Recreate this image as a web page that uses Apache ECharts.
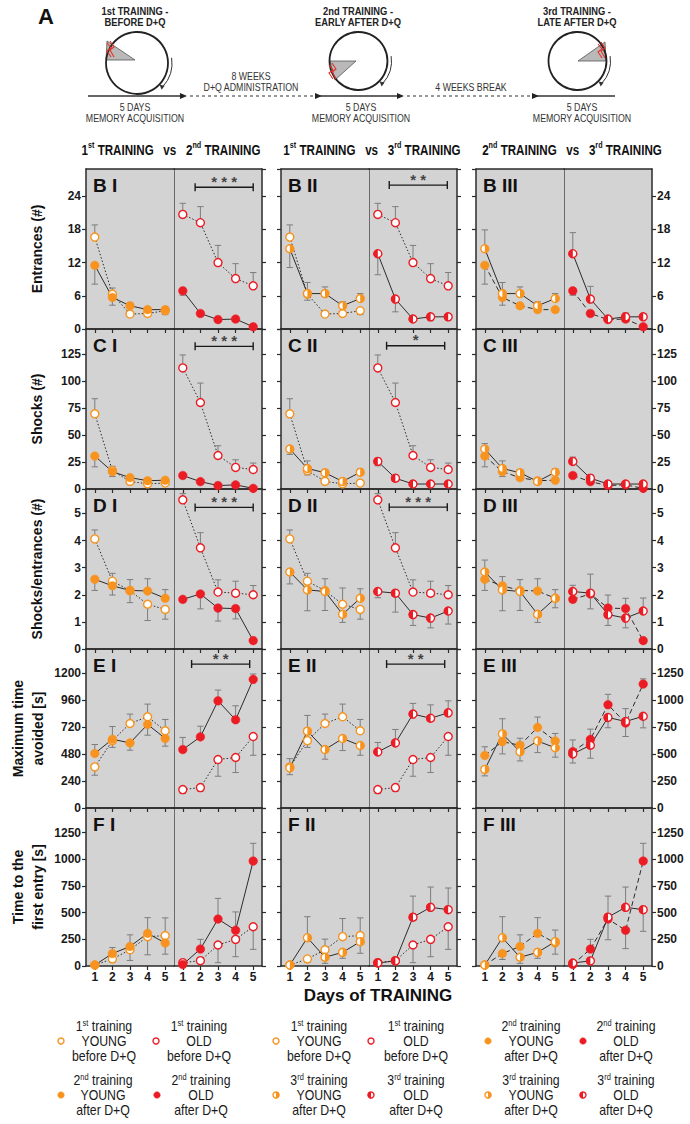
<!DOCTYPE html>
<html><head><meta charset="utf-8">
<script src="https://cdn.jsdelivr.net/npm/echarts@6/dist/echarts.min.js"></script>
<style>html,body{margin:0;padding:0;background:#fff}#c{width:690px;height:1124px}</style>
</head><body><div id="c"></div>
<script>
// ---------------- DATA ----------------
const days = ['1', '2', '3', '4', '5'];

// B: Entrances (#)
const entrancesYoung1st = [16.6, 6.3, 2.7, 2.8, 3.3];
const entrancesYoung1stSem = [2.2, 1.1, 0.4, 0.4, 0.7];
const entrancesYoung2nd = [11.5, 5.7, 4.2, 3.5, 3.5];
const entrancesYoung2ndSem = [3.4, 1.4, 0.5, 0.4, 0.5];
const entrancesYoung3rd = [14.5, 6.4, 6.4, 4.2, 5.5];
const entrancesYoung3rdSem = [3.4, 2.0, 1.2, 0.7, 0.9];
const entrancesOld1st = [20.7, 19.2, 12.0, 9.1, 7.8];
const entrancesOld1stSem = [2.0, 2.9, 3.1, 2.7, 2.4];
const entrancesOld2nd = [6.9, 2.8, 1.7, 1.8, 0.4];
const entrancesOld2ndSem = [0.8, 0.4, 0.3, 0.3, 0.2];
const entrancesOld3rd = [13.6, 5.4, 1.8, 2.2, 2.2];
const entrancesOld3rdSem = [3.8, 2.3, 0.4, 0.7, 0.6];

// C: Shocks (#)
const shocksYoung1st = [69.5, 17, 7, 4.8, 5.5];
const shocksYoung1stSem = [14, 4, 2, 1.5, 2];
const shocksYoung2nd = [30.5, 16, 10.5, 7.7, 8.1];
const shocksYoung2ndSem = [10, 4.5, 2, 1.5, 1.5];
const shocksYoung3rd = [37, 19, 15, 7, 15.5];
const shocksYoung3rdSem = [5, 7, 3, 1.5, 3];
const shocksOld1st = [112, 80, 31, 20, 18];
const shocksOld1stSem = [12, 18, 9, 7, 6];
const shocksOld2nd = [12.5, 6.8, 3.2, 3.8, 0.6];
const shocksOld2ndSem = [2, 1.5, 1, 1, 0.5];
const shocksOld3rd = [25.5, 10, 4.6, 4.6, 4.6];
const shocksOld3rdSem = [4, 3, 1, 1, 1];

// D: Shocks/entrances (#)
const ratioYoung1st = [4.06, 2.5, 2.15, 1.65, 1.46];
const ratioYoung1stSem = [0.33, 0.29, 0.44, 0.6, 0.36];
const ratioYoung2nd = [2.57, 2.33, 2.16, 2.14, 1.87];
const ratioYoung2ndSem = [0.41, 0.34, 0.4, 0.45, 0.32];
const ratioYoung3rd = [2.84, 2.18, 2.12, 1.28, 1.87];
const ratioYoung3rdSem = [0.44, 0.77, 0.7, 0.3, 0.35];
const ratioOld1st = [5.5, 3.73, 2.1, 2.06, 2.0];
const ratioOld1stSem = [0.23, 0.56, 0.45, 0.44, 0.34];
const ratioOld2nd = [1.83, 2.03, 1.51, 1.49, 0.31];
const ratioOld2ndSem = [0.1, 0.55, 0.48, 0.38, 0.1];
const ratioOld3rd = [2.12, 2.06, 1.27, 1.14, 1.4];
const ratioOld3rdSem = [0.23, 0.7, 0.4, 0.36, 0.48];

// E: Maximum time avoided [s]
const avoidYoung1st = [366, 600, 753, 813, 688];
const avoidYoung1stSem = [74, 60, 84, 113, 101];
const avoidYoung2nd = [486, 613, 580, 745, 620];
const avoidYoung2ndSem = [80, 113, 65, 96, 69];
const avoidYoung3rd = [357, 685, 521, 619, 557];
const avoidYoung3rdSem = [60, 140, 86, 107, 87];
const avoidOld1st = [164, 182, 432, 450, 637];
const avoidOld1stSem = [35, 33, 149, 134, 167];
const avoidOld2nd = [521, 634, 955, 786, 1146];
const avoidOld2ndSem = [108, 95, 96, 125, 48];
const avoidOld3rd = [500, 580, 837, 800, 848];
const avoidOld3rdSem = [84, 120, 95, 119, 107];

// F: Time to the first entry [s]
const firstYoung1st = [9, 66, 152, 275, 285];
const firstYoung1stSem = [5, 30, 100, 170, 166];
const firstYoung2nd = [9, 117, 183, 306, 216];
const firstYoung2ndSem = [5, 56, 109, 147, 105];
const firstYoung3rd = [9, 265, 82, 128, 228];
const firstYoung3rdSem = [5, 197, 57, 56, 109];
const firstOld1st = [31, 50, 197, 250, 368];
const firstOld1stSem = [10, 20, 166, 163, 212];
const firstOld2nd = [14, 159, 440, 335, 984];
const firstOld2ndSem = [5, 91, 194, 172, 166];
const firstOld3rd = [28, 48, 458, 550, 528];
const firstOld3rdSem = [10, 20, 197, 190, 203];

// significance brackets (old-mouse half of a panel)
const sigRow = [0, 1, 2, 3, 0, 1, 2, 3];
const sigCol = [0, 0, 0, 0, 1, 1, 1, 1];
const sigFrom = [1.7, 1.7, 1.7, 1.5, 1.65, 1.5, 1.65, 1.5];
const sigTo = [5, 5, 5, 4.8, 4.95, 4.8, 4.95, 4.8];
const sigLevel = [25.6, 132, 5.22, 1283, 26, 132.5, 5.23, 1283];
const sigStars = ['* * *', '* * *', '* * *', '* *', '* *', '*', '* * *', '* *'];

// ---------------- BUILD ----------------
const FONT = "'Liberation Sans', Arial, sans-serif";
const ORANGE = '#f7931e', RED = '#ec1c24';
const DARK = '#2b2b2b';
const plainNum = v => String(v);

const metrics = [
  {key: 'B', title: 'Entrances (#)', max: 28.9, step: 6,
   s: {young1: [entrancesYoung1st, entrancesYoung1stSem], young2: [entrancesYoung2nd, entrancesYoung2ndSem], young3: [entrancesYoung3rd, entrancesYoung3rdSem],
       old1: [entrancesOld1st, entrancesOld1stSem], old2: [entrancesOld2nd, entrancesOld2ndSem], old3: [entrancesOld3rd, entrancesOld3rdSem]}},
  {key: 'C', title: 'Shocks (#)', max: 148, step: 25,
   s: {young1: [shocksYoung1st, shocksYoung1stSem], young2: [shocksYoung2nd, shocksYoung2ndSem], young3: [shocksYoung3rd, shocksYoung3rdSem],
       old1: [shocksOld1st, shocksOld1stSem], old2: [shocksOld2nd, shocksOld2ndSem], old3: [shocksOld3rd, shocksOld3rdSem]}},
  {key: 'D', title: 'Shocks/entrances (#)', max: 5.9, step: 1,
   s: {young1: [ratioYoung1st, ratioYoung1stSem], young2: [ratioYoung2nd, ratioYoung2ndSem], young3: [ratioYoung3rd, ratioYoung3rdSem],
       old1: [ratioOld1st, ratioOld1stSem], old2: [ratioOld2nd, ratioOld2ndSem], old3: [ratioOld3rd, ratioOld3rdSem]}},
  {key: 'E', title: 'Maximum time\navoided [s]', max: 1417, step: 240, max3: 1470, step3: 250,
   s: {young1: [avoidYoung1st, avoidYoung1stSem], young2: [avoidYoung2nd, avoidYoung2ndSem], young3: [avoidYoung3rd, avoidYoung3rdSem],
       old1: [avoidOld1st, avoidOld1stSem], old2: [avoidOld2nd, avoidOld2ndSem], old3: [avoidOld3rd, avoidOld3rdSem]}},
  {key: 'F', title: 'Time to the\nfirst entry [s]', max: 1481, step: 250,
   s: {young1: [firstYoung1st, firstYoung1stSem], young2: [firstYoung2nd, firstYoung2ndSem], young3: [firstYoung3rd, firstYoung3rdSem],
       old1: [firstOld1st, firstOld1stSem], old2: [firstOld2nd, firstOld2ndSem], old3: [firstOld3rd, firstOld3rdSem]}}
];

const colX = [86, 281, 476], halfW = 88;
const rowTop = [169, 329, 489, 649, 808], rowH = [160, 160, 160, 159, 158];
const pairs = [[1, 2], [1, 3], [2, 3]];
const roman = ['I', 'II', 'III'];

function markerShapes(kind, color, x, y, r) {
  const ch = [];
  if (kind === 'filled') {
    ch.push({type: 'circle', shape: {cx: x, cy: y, r: r}, style: {fill: color, stroke: color, lineWidth: 0.5}});
  } else {
    ch.push({type: 'circle', shape: {cx: x, cy: y, r: r - 0.3}, style: {fill: '#fff', stroke: color, lineWidth: 1.4}});
    if (kind === 'halfR') ch.push({type: 'sector', shape: {cx: x, cy: y, r0: 0, r: r, startAngle: -Math.PI / 2, endAngle: Math.PI / 2, clockwise: true}, style: {fill: color}});
    if (kind === 'halfL') ch.push({type: 'sector', shape: {cx: x, cy: y, r0: 0, r: r, startAngle: Math.PI / 2, endAngle: Math.PI * 1.5, clockwise: true}, style: {fill: color}});
  }
  return ch;
}

function renderErrorBar(params, api) {
  const x = api.value(0), v = api.value(1), e = api.value(2), d = api.value(3);
  const p0 = api.coord([x, v]);
  const p1 = api.coord([x, v + d * e]);
  return {type: 'group', children: [
    {type: 'line', shape: {x1: p0[0], y1: p0[1], x2: p1[0], y2: p1[1]}, style: {stroke: '#7d7d7d', lineWidth: 1}},
    {type: 'line', shape: {x1: p1[0] - 3.2, y1: p1[1], x2: p1[0] + 3.2, y2: p1[1]}, style: {stroke: '#7d7d7d', lineWidth: 1}}
  ]};
}

const grids = [], xAxes = [], yAxes = [], series = [], graphics = [];
const gridIndexOf = {};

metrics.forEach((m, r) => {
  for (let c = 0; c < 3; c++) {
    const ymax = (c === 2 && m.max3) ? m.max3 : m.max;
    const ystep = (c === 2 && m.step3) ? m.step3 : m.step;
    for (let h = 0; h < 2; h++) {
      const g = grids.length;
      gridIndexOf[r + '_' + c + '_' + h] = g;
      grids.push({left: colX[c] + h * halfW, top: rowTop[r], width: halfW, height: rowH[r],
        show: true, backgroundColor: '#d3d3d3', borderWidth: 0, containLabel: false, outerBoundsMode: 'none'});
      xAxes.push({gridIndex: g, type: 'category', data: days, boundaryGap: true, position: 'bottom',
        axisLine: {show: true, onZero: false, lineStyle: {color: DARK, width: 1.5}},
        axisTick: {show: true, alignWithLabel: true, inside: false, length: 4, lineStyle: {color: DARK, width: 1.2}},
        axisLabel: {show: r === 4, fontWeight: 'bold', fontSize: 12, color: '#1a1a1a', margin: 5, fontFamily: FONT},
        splitLine: {show: false}});
      xAxes.push({gridIndex: g, type: 'value', min: 0.5, max: 5.5, position: 'top',
        axisLine: {show: true, onZero: false, lineStyle: {color: DARK, width: 1.5}},
        axisTick: {show: false}, axisLabel: {show: false}, splitLine: {show: false}});
      yAxes.push({gridIndex: g, type: 'value', min: 0, max: ymax, interval: ystep, position: 'left',
        axisLine: {show: h === 0, onZero: false, lineStyle: {color: DARK, width: 1.5}},
        axisTick: {show: h === 0, inside: false, length: 4, lineStyle: {color: DARK, width: 1.2}},
        axisLabel: {show: h === 0 && c === 0, showMaxLabel: false, formatter: plainNum, fontWeight: 'bold', fontSize: 12, color: '#1a1a1a', margin: 5, fontFamily: FONT},
        splitLine: {show: false}});
      yAxes.push({gridIndex: g, type: 'value', min: 0, max: ymax, interval: ystep, position: 'right',
        axisLine: {show: true, onZero: false, lineStyle: {color: h === 0 ? '#6b6b6b' : DARK, width: h === 0 ? 1 : 1.5}},
        axisTick: {show: h === 1, inside: false, length: 4, lineStyle: {color: DARK, width: 1.2}},
        axisLabel: {show: h === 1 && c === 2, showMaxLabel: false, formatter: plainNum, fontWeight: 'bold', fontSize: 12, color: '#1a1a1a', margin: 5, fontFamily: FONT},
        splitLine: {show: false}});

      const grp = h === 0 ? 'young' : 'old';
      const tA = pairs[c][0], tB = pairs[c][1];
      const va = m.s[grp + tA][0], ea = m.s[grp + tA][1];
      const vb = m.s[grp + tB][0], eb = m.s[grp + tB][1];
      const dirA = va.map((v, i) => v >= vb[i] ? 1 : -1);
      const list = [[tA, va, ea, dirA, 0], [tB, vb, eb, dirA.map(d => -d), 1]];
      list.forEach(([t, v, e, dir, pos]) => {
        const lineType = pos === 1 ? 'solid' : (c === 2 ? [5, 3] : [1.5, 2]);
        series.push({type: 'line', xAxisIndex: 2 * g, yAxisIndex: 2 * g, data: v, symbol: 'none',
          lineStyle: {color: DARK, width: 1, type: lineType}, z: 2, silent: true});
      });
      list.forEach(([t, v, e, dir, pos]) => {
        series.push({type: 'custom', xAxisIndex: 2 * g, yAxisIndex: 2 * g, silent: true, z: 3, clip: false,
          encode: {x: 0, y: 1},
          data: v.map((y, i) => [i, y, e[i], dir[i]]), renderItem: renderErrorBar});
      });
      list.forEach(([t, v, e, dir, pos]) => {
        const kind = t === 1 ? 'open' : t === 2 ? 'filled' : (h === 0 ? 'halfR' : 'halfL');
        const color = h === 0 ? ORANGE : RED;
        series.push({type: 'custom', xAxisIndex: 2 * g, yAxisIndex: 2 * g, silent: true, z: 4, clip: false,
          encode: {x: 0, y: 1},
          data: v.map((y, i) => [i, y]),
          renderItem: (p, api) => {
            const pt = api.coord([api.value(0), api.value(1)]);
            return {type: 'group', children: markerShapes(kind, color, pt[0], pt[1], 4.3)};
          }});
      });
    }
    graphics.push({type: 'text', x: colX[c] + 7, y: rowTop[r] + 7, z: 10,
      style: {text: m.key + ' ' + roman[c], font: 'bold 19px ' + FONT, fill: '#111', textAlign: 'left', textVerticalAlign: 'top', align: 'left', verticalAlign: 'top'}});
  }
  const two = m.title.indexOf('\n') >= 0;
  graphics.push({type: 'text', x: two ? 28 : 37, y: rowTop[r] + rowH[r] / 2, rotation: Math.PI / 2, z: 10,
    style: {text: m.title, font: 'bold 14px ' + FONT, fill: '#111', lineHeight: 20,
      textAlign: 'center', textVerticalAlign: 'middle', align: 'center', verticalAlign: 'middle'}});
});

// significance brackets
sigRow.forEach((r, k) => {
  const g = gridIndexOf[r + '_' + sigCol[k] + '_1'];
  series.push({type: 'line', xAxisIndex: 2 * g + 1, yAxisIndex: 2 * g, silent: true, z: 5,
    data: [[sigFrom[k], sigLevel[k]], [sigTo[k], sigLevel[k]]],
    symbol: 'rect', symbolSize: [1.4, 8], itemStyle: {color: '#1a1a1a'},
    lineStyle: {color: '#1a1a1a', width: 1.3, type: 'solid'}});
  series.push({type: 'scatter', xAxisIndex: 2 * g + 1, yAxisIndex: 2 * g, silent: true, z: 5,
    data: [[(sigFrom[k] + sigTo[k]) / 2, sigLevel[k]]], symbolSize: 1, itemStyle: {color: 'rgba(0,0,0,0)'},
    label: {show: true, position: 'top', distance: -2, formatter: sigStars[k], fontSize: 15, fontWeight: 'bold', color: '#1a1a1a', fontFamily: FONT}});
});

// column headers (condensed via horizontal scaling)
const headerTexts = [['1', 'st', '2', 'nd'], ['1', 'st', '3', 'rd'], ['2', 'nd', '3', 'rd']];
const headerX = [171, 372, 572];
headerTexts.forEach((t, c) => {
  graphics.push({type: 'text', x: headerX[c], y: 150, scaleX: 0.8, z: 10,
    style: {text: '{b|' + t[0] + '}{s|' + t[1] + '}{b| TRAINING   vs   ' + t[2] + '}{s|' + t[3] + '}{b| TRAINING}',
      textAlign: 'center', textVerticalAlign: 'middle', align: 'center', verticalAlign: 'middle',
      rich: {b: {fontSize: 14.5, fontWeight: 'bold', fontFamily: FONT, fill: '#111', lineHeight: 18},
             s: {fontSize: 9, fontWeight: 'bold', fontFamily: FONT, fill: '#111', lineHeight: 10, verticalAlign: 'top'}}}});
});

// x-axis title
graphics.push({type: 'text', x: 378, y: 995, z: 10,
  style: {text: 'Days of TRAINING', font: 'bold 17px ' + FONT, fill: '#111', textAlign: 'center', textVerticalAlign: 'middle', align: 'center', verticalAlign: 'middle'}});

// legend
const ord = {1: 'st', 2: 'nd', 3: 'rd'};
const legendGroups = [
  [[1, 'young'], [1, 'old'], [2, 'young'], [2, 'old']],
  [[1, 'young'], [1, 'old'], [3, 'young'], [3, 'old']],
  [[2, 'young'], [2, 'old'], [3, 'young'], [3, 'old']]
];
const legSymX = [[61, 156, 61, 157], [276, 371, 276, 371], [488, 583, 488, 583]];
const legTxtX = [[104, 199, 103, 201], [319, 416, 319, 416], [531, 626, 531, 626]];
const legY = [1041, 1041, 1095, 1095];
legendGroups.forEach((grpList, gi) => {
  grpList.forEach(([t, age], k) => {
    const kind = t === 1 ? 'open' : t === 2 ? 'filled' : (age === 'young' ? 'halfR' : 'halfL');
    const color = age === 'young' ? ORANGE : RED;
    graphics.push({type: 'group', z: 10, children: markerShapes(kind, color, legSymX[gi][k], legY[k], 3.3)});
    graphics.push({type: 'text', x: legTxtX[gi][k], y: legY[k], scaleX: 0.88, z: 10,
      style: {text: '{t|' + t + '}{s|' + ord[t] + '}{t| training}\n{t|' + (age === 'young' ? 'YOUNG' : 'OLD') + '}\n{t|' + (t === 1 ? 'before D+Q' : 'after D+Q') + '}',
        textAlign: 'center', textVerticalAlign: 'middle', align: 'center', verticalAlign: 'middle',
        rich: {t: {fontSize: 14, fontFamily: FONT, fill: '#1a1a1a', lineHeight: 15},
               s: {fontSize: 8.5, fontFamily: FONT, fill: '#1a1a1a', lineHeight: 8, verticalAlign: 'top'}}}});
  });
});

// panel A schematic
function txt(text, x, y, font, align, fill, sx) {
  return {type: 'text', x: x, y: y, scaleX: sx || 1, z: 10, style: {text: text, font: font, fill: fill || '#222', lineHeight: 11,
    textAlign: align || 'center', textVerticalAlign: 'middle', align: align || 'center', verticalAlign: 'middle'}};
}
graphics.push(txt('A', 38, 16, 'bold 22px ' + FONT, 'left', '#111'));
const stages = [
  {cx: 137, cy: 63, r: 31, title: '1st TRAINING -\nBEFORE D+Q', tx: 135, wedge: [[135, 60], [107, 41], [106, 60]], bolt: [111, 49]},
  {cx: 358.5, cy: 61, r: 29, title: '2nd TRAINING -\nEARLY AFTER D+Q', tx: 358, wedge: [[356, 61], [330, 61], [335, 80]], bolt: [333, 71]},
  {cx: 577.5, cy: 61, r: 29, title: '3rd TRAINING -\nLATE AFTER D+Q', tx: 577, wedge: [[578, 61], [605, 42], [606, 61]], bolt: [602, 50]}
];
stages.forEach(s => {
  graphics.push(txt(s.title, s.tx, 16.5, 'bold 11px ' + FONT, 'center', '#222', 0.85));
  graphics.push({type: 'polygon', z: 9, shape: {points: s.wedge}, style: {fill: '#b9b9b9', stroke: '#555', lineWidth: 0.8}});
  graphics.push({type: 'circle', z: 10, shape: {cx: s.cx, cy: s.cy, r: s.r}, style: {fill: 'none', stroke: '#222', lineWidth: 1.8}});
  const bx = s.bolt[0], by = s.bolt[1];
  graphics.push({type: 'polyline', z: 11, shape: {points: [[bx - 1, by - 8], [bx + 3, by - 2], [bx - 1, by + 1], [bx + 3, by + 8]]}, style: {stroke: '#e3342a', lineWidth: 1.1, fill: 'none'}});
  graphics.push({type: 'polyline', z: 11, shape: {points: [[bx - 4, by - 6], [bx, by - 1], [bx - 4, by + 2], [bx, by + 8]]}, style: {stroke: '#e3342a', lineWidth: 1.1, fill: 'none'}});
  graphics.push({type: 'arc', z: 10, shape: {cx: s.cx, cy: s.cy, r: s.r + 4, startAngle: -0.15, endAngle: 0.75, clockwise: true}, style: {stroke: '#333', lineWidth: 1, fill: 'none'}});
  const ax = s.cx + (s.r + 4) * Math.cos(0.75), ay = s.cy + (s.r + 4) * Math.sin(0.75);
  graphics.push({type: 'polygon', z: 10, shape: {points: [[ax - 1, ay + 3], [ax - 3, ay - 2], [ax + 2, ay - 1]]}, style: {fill: '#333'}});
});
const TL = 96;
function arrowHead(x) { return {type: 'polygon', z: 10, shape: {points: [[x - 7, TL - 3], [x, TL], [x - 7, TL + 3]]}, style: {fill: '#222'}}; }
graphics.push({type: 'line', z: 10, shape: {x1: 88, y1: TL, x2: 184, y2: TL}, style: {stroke: '#333', lineWidth: 1.3}});
graphics.push(arrowHead(187));
graphics.push({type: 'line', z: 10, shape: {x1: 190, y1: TL, x2: 316, y2: TL}, style: {stroke: '#333', lineWidth: 1, lineDash: [3, 3]}});
graphics.push(arrowHead(322));
graphics.push({type: 'line', z: 10, shape: {x1: 320, y1: TL, x2: 400, y2: TL}, style: {stroke: '#333', lineWidth: 1.3}});
graphics.push(arrowHead(404));
graphics.push({type: 'line', z: 10, shape: {x1: 407, y1: TL, x2: 533, y2: TL}, style: {stroke: '#333', lineWidth: 1, lineDash: [3, 3]}});
graphics.push(arrowHead(539));
graphics.push({type: 'line', z: 10, shape: {x1: 537, y1: TL, x2: 615, y2: TL}, style: {stroke: '#333', lineWidth: 1.3}});
graphics.push(txt('8 WEEKS\nD+Q ADMINISTRATION', 251, 82, '10px ' + FONT, 'center', '#333', 0.88));
graphics.push(txt('4 WEEKS BREAK', 471, 87, '10px ' + FONT, 'center', '#333', 0.88));
[135, 361, 582].forEach(x => graphics.push(txt('5 DAYS\nMEMORY ACQUISITION', x, 113, '10px ' + FONT, 'center', '#333', 0.88)));

const chart = echarts.init(document.getElementById('c'), null, {renderer: 'svg', width: 690, height: 1124});
chart.setOption({
  animation: false,
  backgroundColor: '#ffffff',
  grid: grids,
  xAxis: xAxes,
  yAxis: yAxes,
  series: series,
  graphic: {elements: graphics}
});
</script>
</body></html>
